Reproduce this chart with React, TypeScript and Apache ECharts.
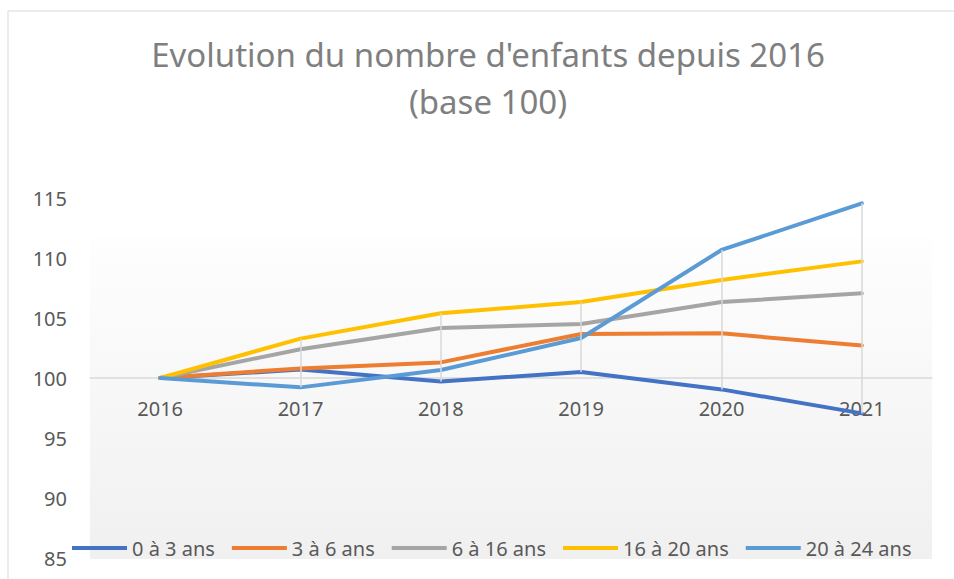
import React, { useEffect, useRef } from "react";
import * as echarts from "echarts";

const years = ["2016", "2017", "2018", "2019", "2020", "2021"];
const seriesNames = ["0 à 3 ans", "3 à 6 ans", "6 à 16 ans", "16 à 20 ans", "20 à 24 ans"];
const age0to3 = [100, 100.7, 99.7, 100.5, 99.05, 97.05];
const age3to6 = [100, 100.8, 101.3, 103.67, 103.72, 102.7];
const age6to16 = [100, 102.4, 104.17, 104.5, 106.33, 107.06];
const age16to20 = [100, 103.28, 105.39, 106.33, 108.17, 109.72];
const age20to24 = [100, 99.22, 100.67, 103.33, 110.67, 114.56];
const colors = ["#4472C4", "#ED7D31", "#A5A5A5", "#FFC000", "#5B9BD5"];
const yMin = 85;
const yMax = 115;
const yStep = 5;

const FONT = "'Noto Sans', sans-serif";

export default function App() {
  const ref = useRef<HTMLDivElement>(null);
  useEffect(() => {
    if (!ref.current) return;
    const chart = echarts.init(ref.current, undefined, { renderer: "svg" });
    const all = [age0to3, age3to6, age6to16, age16to20, age20to24];
    const hiLoLines = years
      .map((y, i) => {
        const vals = all.map((s) => s[i]);
        const hi = Math.max(...vals);
        const lo = Math.min(...vals);
        return [{ coord: [y, hi] }, { coord: [y, lo] }];
      })
      .filter((p) => p[0].coord[1] !== p[1].coord[1]);
    chart.setOption({
      animation: false,
      backgroundColor: "#ffffff",
      textStyle: { fontFamily: FONT },
      title: {
        text: "Evolution du nombre d'enfants depuis 2016\n(base 100)",
        left: 488,
        top: 31,
        padding: 0,
        textAlign: "center",
        textStyle: {
          fontFamily: FONT,
          fontSize: 33,
          fontWeight: "normal",
          color: "#7f7f7f",
          lineHeight: 47,
        },
      },
      graphic: [
        {
          type: "rect",
          z: -10,
          silent: true,
          shape: { x: 8, y: 11, width: 980, height: 620 },
          style: { fill: "none", stroke: "#d9d9d9", lineWidth: 1 },
        },
        {
          type: "rect",
          z: -9,
          silent: true,
          shape: { x: 90, y: 238, width: 842, height: 321 },
          style: {
            fill: new echarts.graphic.LinearGradient(0, 0, 0, 1, [
              { offset: 0, color: "#fefefe" },
              { offset: 1, color: "#f0f0f0" },
            ]),
          },
        },
      ],
      legend: {
        data: seriesNames,
        left: 67,
        top: 533,
        icon: "rect",
        itemWidth: 55,
        itemHeight: 4,
        itemGap: 17,
        textStyle: { fontFamily: FONT, fontSize: 20, color: "#595959" },
      },
      grid: { left: 90, right: 22, top: 198, bottom: 21, containLabel: false },
      xAxis: {
        type: "category",
        data: years,
        boundaryGap: true,
        offset: -180,
        axisLine: { show: true, lineStyle: { color: "#d9d9d9", width: 1.5 } },
        axisTick: { show: false },
        splitLine: { show: false },
        axisLabel: { fontFamily: FONT, fontSize: 20, color: "#595959", margin: 20 },
      },
      yAxis: {
        type: "value",
        min: yMin,
        max: yMax,
        interval: yStep,
        axisLine: { show: false },
        axisTick: { show: false },
        splitLine: { show: false },
        axisLabel: { fontFamily: FONT, fontSize: 20, color: "#595959", margin: 23 },
      },
      series: [
        {
          type: "line",
          name: "hilo",
          z: 1,
          silent: true,
          data: years.map(() => null),
          symbol: "none",
          markLine: {
            silent: true,
            symbol: ["none", "none"],
            label: { show: false },
            lineStyle: { color: "#d9d9d9", width: 1.5, type: "solid" },
            emphasis: { disabled: true },
            data: hiLoLines,
          },
        },
        ...all.map((d, i) => ({
          type: "line",
          name: seriesNames[i],
          data: d,
          z: 3,
          showSymbol: false,
          symbol: "none",
          color: colors[i],
          lineStyle: { color: colors[i], width: 4, cap: "round", join: "round" },
        })),
      ],
    });
    return () => chart.dispose();
  }, []);
  return (
    <div
      ref={ref}
      style={{ position: "fixed", left: 0, top: 0, width: 954, height: 579 }}
    />
  );
}
